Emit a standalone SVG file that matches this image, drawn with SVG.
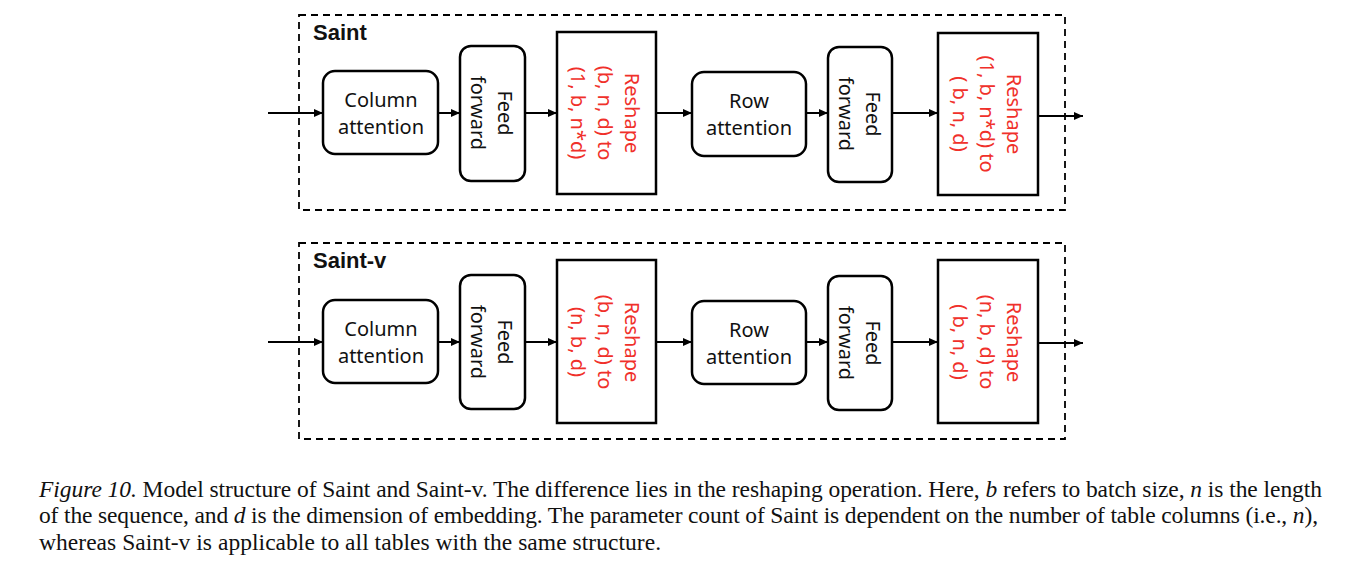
<svg xmlns="http://www.w3.org/2000/svg" width="1354" height="578" viewBox="0 0 1354 578">
<style>
.panel{fill:none;stroke:#000;stroke-width:1.8;stroke-dasharray:7 5}
.rbox{fill:#fff;stroke:#000;stroke-width:2.5}
.sbox{fill:#fff;stroke:#000;stroke-width:2.5}
.t{font-family:"Noto Sans","Liberation Sans",sans-serif;font-size:20px;fill:#111;text-anchor:middle}
.r{font-family:"Noto Sans","Liberation Sans",sans-serif;font-size:20px;fill:#f0302a;text-anchor:middle}
.title{font-family:"Liberation Sans",Arial,sans-serif;font-size:22px;font-weight:bold;fill:#111}
.conn{stroke:#000;stroke-width:2;fill:none;marker-end:url(#ah)}
.cap{font-family:"Liberation Serif","Times New Roman",serif;font-size:23.5px;fill:#111}
.it{font-style:italic}
</style>
<defs>
<marker id="ah" markerWidth="9" markerHeight="8" refX="9" refY="4" orient="auto" markerUnits="userSpaceOnUse">
<path d="M0,0 L9,4 L0,8 z" fill="#000"/>
</marker>
</defs>

<!-- Panel 1: Saint -->
<g id="panel-saint">
<rect class="panel" x="299" y="15" width="766" height="195"/>
<text class="title" x="313" y="40">Saint</text>
</g>
<g id="connectors-saint">
<line class="conn" x1="268" y1="113" x2="323" y2="113"/>
<line class="conn" x1="438" y1="113" x2="460" y2="113"/>
<line class="conn" x1="525" y1="113" x2="557" y2="113"/>
<line class="conn" x1="656" y1="113" x2="692" y2="113"/>
<line class="conn" x1="806" y1="113" x2="828" y2="113"/>
<line class="conn" x1="892" y1="113" x2="938" y2="113"/>
<line class="conn" x1="1038" y1="116" x2="1083" y2="116"/>
</g>
<g id="saint-col-attn">
<rect class="rbox" x="323" y="71" width="115" height="83" rx="12"/>
<text class="t" x="381" y="107">Column</text>
<text class="t" x="381" y="134">attention</text>
</g>
<g id="saint-ff1">
<rect class="rbox" x="460" y="46" width="65" height="135" rx="11"/>
<text class="t" transform="translate(498,113) rotate(90)">Feed</text>
<text class="t" transform="translate(471,113) rotate(90)">forward</text>
</g>
<g id="saint-reshape1">
<rect class="sbox" x="557" y="32" width="99" height="162"/>
<text class="r" transform="translate(625,113) rotate(90)">Reshape</text>
<text class="r" transform="translate(598,113) rotate(90)">(b, n, d) to</text>
<text class="r" transform="translate(571,113) rotate(90)">(1, b, n*d)</text>
</g>
<g id="saint-row-attn">
<rect class="rbox" x="692" y="72" width="114" height="84" rx="12"/>
<text class="t" x="749" y="108">Row</text>
<text class="t" x="749" y="135">attention</text>
</g>
<g id="saint-ff2">
<rect class="rbox" x="828" y="47" width="64" height="135" rx="11"/>
<text class="t" transform="translate(866,114) rotate(90)">Feed</text>
<text class="t" transform="translate(839,114) rotate(90)">forward</text>
</g>
<g id="saint-reshape2">
<rect class="sbox" x="938" y="33" width="100" height="162"/>
<text class="r" transform="translate(1007,114) rotate(90)">Reshape</text>
<text class="r" transform="translate(980,114) rotate(90)">(1, b, n*d) to</text>
<text class="r" transform="translate(953,114) rotate(90)">( b, n, d)</text>
</g>

<!-- Panel 2: Saint-v -->
<g id="panel-saint-v">
<rect class="panel" x="299" y="243" width="766" height="196"/>
<text class="title" x="313" y="268">Saint-v</text>
</g>
<g id="connectors-saint-v">
<line class="conn" x1="268" y1="342" x2="323" y2="342"/>
<line class="conn" x1="438" y1="342" x2="460" y2="342"/>
<line class="conn" x1="525" y1="342" x2="557" y2="342"/>
<line class="conn" x1="656" y1="342" x2="692" y2="342"/>
<line class="conn" x1="806" y1="342" x2="828" y2="342"/>
<line class="conn" x1="892" y1="342" x2="938" y2="342"/>
<line class="conn" x1="1038" y1="343" x2="1083" y2="343"/>
</g>
<g id="saintv-col-attn">
<rect class="rbox" x="323" y="300" width="115" height="83" rx="12"/>
<text class="t" x="381" y="336">Column</text>
<text class="t" x="381" y="363">attention</text>
</g>
<g id="saintv-ff1">
<rect class="rbox" x="460" y="275" width="65" height="134" rx="11"/>
<text class="t" transform="translate(498,342) rotate(90)">Feed</text>
<text class="t" transform="translate(471,342) rotate(90)">forward</text>
</g>
<g id="saintv-reshape1">
<rect class="sbox" x="557" y="260" width="99" height="163"/>
<text class="r" transform="translate(625,342) rotate(90)">Reshape</text>
<text class="r" transform="translate(598,342) rotate(90)">(b, n, d) to</text>
<text class="r" transform="translate(571,342) rotate(90)">(n, b, d)</text>
</g>
<g id="saintv-row-attn">
<rect class="rbox" x="692" y="301" width="114" height="83" rx="12"/>
<text class="t" x="749" y="337">Row</text>
<text class="t" x="749" y="364">attention</text>
</g>
<g id="saintv-ff2">
<rect class="rbox" x="828" y="276" width="64" height="134" rx="11"/>
<text class="t" transform="translate(866,343) rotate(90)">Feed</text>
<text class="t" transform="translate(839,343) rotate(90)">forward</text>
</g>
<g id="saintv-reshape2">
<rect class="sbox" x="938" y="260" width="100" height="163"/>
<text class="r" transform="translate(1007,342) rotate(90)">Reshape</text>
<text class="r" transform="translate(980,342) rotate(90)">(n, b, d) to</text>
<text class="r" transform="translate(953,342) rotate(90)">( b, n, d)</text>
</g>

<!-- Caption -->
<g id="caption">
<text class="cap" x="39" y="497" textLength="1283" lengthAdjust="spacing"><tspan class="it">Figure 10.</tspan> Model structure of Saint and Saint-v. The difference lies in the reshaping operation. Here, <tspan class="it">b</tspan> refers to batch size, <tspan class="it">n</tspan> is the length</text>
<text class="cap" x="39" y="523" textLength="1279" lengthAdjust="spacing">of the sequence, and <tspan class="it">d</tspan> is the dimension of embedding. The parameter count of Saint is dependent on the number of table columns (i.e., <tspan class="it">n</tspan>),</text>
<text class="cap" x="39" y="550" textLength="622" lengthAdjust="spacing">whereas Saint-v is applicable to all tables with the same structure.</text>
</g>
</svg>
